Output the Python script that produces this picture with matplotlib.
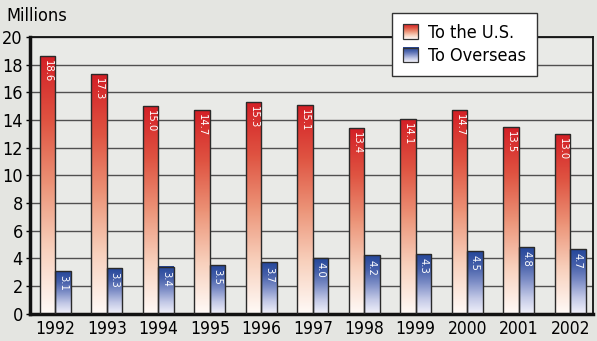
import numpy as np
import matplotlib
matplotlib.use("Agg")
import matplotlib.pyplot as plt
from matplotlib.colors import LinearSegmentedColormap, Normalize
from matplotlib.legend_handler import HandlerBase
from matplotlib.image import BboxImage
from matplotlib.transforms import Bbox, TransformedBbox
from matplotlib.patches import Rectangle

years = ["1992", "1993", "1994", "1995", "1996", "1997",
         "1998", "1999", "2000", "2001", "2002"]
to_us = [18.6, 17.3, 15.0, 14.7, 15.3, 15.1, 13.4, 14.1, 14.7, 13.5, 13.0]
to_overseas = [3.1, 3.3, 3.4, 3.5, 3.7, 4.0, 4.2, 4.3, 4.5, 4.8, 4.7]
series_names = ["To the U.S.", "To Overseas"]

plt.rcParams['font.family'] = ['DejaVu Sans']
plt.rcParams['font.stretch'] = 'condensed'

red_cmap = LinearSegmentedColormap.from_list(
    "red", ["#fffaf7", "#f8d0bc", "#ec9478", "#df5442", "#d42026"])
blue_cmap = LinearSegmentedColormap.from_list(
    "blue", ["#f2f2fb", "#c2c8e6", "#8090c8", "#4660aa", "#25479a"])

grad = np.linspace(0, 1, 128).reshape(-1, 1)


class GradientHandler(HandlerBase):
    def __init__(self, cmap):
        super().__init__()
        self.cmap = cmap

    def create_artists(self, legend, orig_handle, xdescent, ydescent,
                       width, height, fontsize, trans):
        bb = Bbox.from_bounds(-xdescent, -ydescent, width, height)
        img = BboxImage(TransformedBbox(bb, trans), cmap=self.cmap,
                        norm=Normalize(0, 1), origin='lower',
                        interpolation='bilinear')
        img.set_data(grad)
        rect = Rectangle((-xdescent, -ydescent), width, height, fill=False,
                         edgecolor='#333333', lw=0.9, transform=trans)
        return [img, rect]


fig = plt.figure(figsize=(5.97, 3.41), dpi=100, facecolor='#e4e5e1')
ax = fig.add_axes([0.050, 0.0806, 0.943, 0.811])
ax.set_facecolor('#e9eae7')

x = np.arange(len(years))
w = 0.3
bars_us = ax.bar(x - w / 2, to_us, w, facecolor='none',
                 edgecolor='#2a2a2a', lw=1.0, zorder=3)
bars_os = ax.bar(x + w / 2, to_overseas, w, facecolor='none',
                 edgecolor='#2a2a2a', lw=1.0, zorder=3)

for bars, cmap, vals in [(bars_us, red_cmap, to_us),
                         (bars_os, blue_cmap, to_overseas)]:
    for rect, v in zip(bars, vals):
        x0, y0 = rect.get_xy()
        ax.imshow(grad, cmap=cmap, extent=(x0, x0 + rect.get_width(), y0, y0 + rect.get_height()),
                  origin='lower', aspect='auto', zorder=2, interpolation='bilinear')
        ax.annotate(f"{v:.1f}", (x0 + rect.get_width() / 2, v), xytext=(0, -3),
                    textcoords='offset points', rotation=-90, ha='center', va='top',
                    color='white', fontsize=8, zorder=4)

ax.set_xlim(-0.495, 10.44)
ax.set_ylim(0, 20)
ax.set_yticks(np.arange(0, 21, 2))
ax.set_xticks(x)
ax.set_xticklabels(years)
ax.tick_params(axis='x', length=0, pad=5, labelsize=12.5)
ax.tick_params(axis='y', length=3, width=1, pad=2, labelsize=13)
ax.yaxis.grid(True, color='#505050', lw=1.0, zorder=1)
ax.set_axisbelow(True)

for side in ['left', 'bottom']:
    ax.spines[side].set_linewidth(2.5)
for side in ['top', 'right']:
    ax.spines[side].set_linewidth(1.3)
for sp in ax.spines.values():
    sp.set_color('#111111')

fig.text(0.01, 0.953, "Millions", fontsize=13, va='center', ha='left')

handles = [Rectangle((0, 0), 1, 1), Rectangle((0, 0), 1, 1)]
leg = ax.legend(handles, series_names, loc='upper left',
                bbox_to_anchor=(0.657, 0.962), bbox_transform=fig.transFigure,
                borderaxespad=0, fontsize=13, handlelength=0.85, handleheight=0.85,
                handletextpad=0.55, labelspacing=0.3, borderpad=0.6,
                fancybox=False, framealpha=1, edgecolor='#333333',
                handler_map={handles[0]: GradientHandler(red_cmap),
                             handles[1]: GradientHandler(blue_cmap)})
leg.get_frame().set_linewidth(1.0)
leg.set_zorder(10)

fig.savefig("out.png", dpi=100, facecolor=fig.get_facecolor())
